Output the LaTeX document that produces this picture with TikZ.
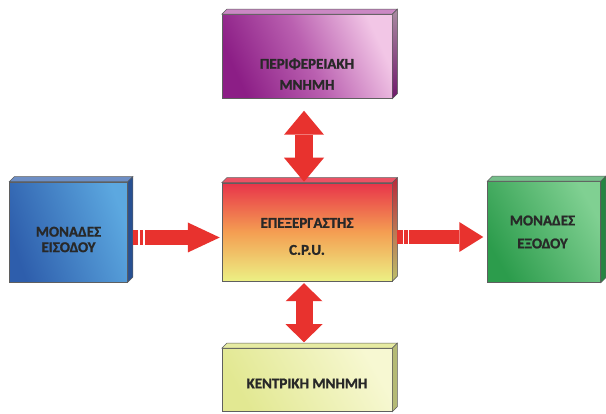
\documentclass[tikz,border=0pt]{standalone}
\usepackage{fontspec}
\setmainfont{Carlito}[BoldFeatures={FakeBold=1.2}]
\usepackage{tikz}
\usetikzlibrary{arrows.meta,positioning}
\definecolor{boxline}{RGB}{95,95,95}
\definecolor{txtgray}{RGB}{40,40,40}
\definecolor{arrred}{RGB}{232,50,46}
\definecolor{purpdark}{RGB}{140,30,134}
\definecolor{purpmid}{RGB}{186,96,176}
\definecolor{purplight}{RGB}{242,198,230}
\definecolor{bluedark}{RGB}{46,94,172}
\definecolor{bluelight}{RGB}{92,168,224}
\definecolor{cpured}{RGB}{232,52,74}
\definecolor{cpuorange}{RGB}{244,158,82}
\definecolor{cpuyellow}{RGB}{236,240,132}
\definecolor{greendark}{RGB}{44,156,76}
\definecolor{greenlight}{RGB}{128,208,146}
\definecolor{memdark}{RGB}{226,232,146}
\definecolor{memlight}{RGB}{247,248,210}

\newcommand\slab[3]{%
  \filldraw[draw=boxline, line width=0.5pt, #2] (#1.north west) -- ++(5,5)
    -- ([shift={(5,5)}]#1.north east) -- (#1.north east) -- cycle;
  \filldraw[draw=boxline, line width=0.5pt, #3] (#1.north east) -- ([shift={(5,5)}]#1.north east)
    -- ([shift={(5,5)}]#1.south east) -- (#1.south east) -- cycle;}

\begin{document}
\begin{tikzpicture}[
    x=1pt, y=1pt,
    box/.style={rectangle, draw=boxline, line width=0.5pt, inner sep=0pt},
    txt/.style={text=txtgray, font=\bfseries\fontsize{15}{17}\selectfont, align=center},
    harrow/.style n args={3}{draw=arrred, line width=#1,
                -{Triangle[width=#2, length=#3, line width=0pt]}},
    varrow/.style n args={3}{draw=arrred, line width=#1,
                {Triangle[width=#2, length=#3, line width=0pt]}-{Triangle[width=#2, length=#3, line width=0pt]}},
    stripe/.style={draw=white, line width=1.5pt}
  ]
    \fill[white] (0,0) rectangle (606,413);
    \useasboundingbox (0,0) rectangle (606,413);

    \node[box, minimum width=170pt, minimum height=98pt,
          top color=cpured, bottom color=cpuyellow, middle color=cpuorange,
          label={[txt, yshift=-4.5pt]center:{ΕΠΕΞΕΡΓΑΣΤΗΣ\\[10pt]C.P.U.}}] (cpu) at (307,181) {};

    \node[box, minimum width=170pt, minimum height=84pt, above=84pt of cpu,
          top color=purplight, bottom color=purpdark, middle color=purpmid, shading angle=-65,
          label={[txt, yshift=-17.5pt]center:{ΠΕΡΙΦΕΡΕΙΑΚΗ\\[4pt]ΜΝΗΜΗ}}] (per) {};

    \node[box, minimum width=118pt, minimum height=100pt, left=94pt of cpu,
          top color=bluelight, bottom color=bluedark, shading angle=-70,
          label={[txt, yshift=-7.5pt]center:{ΜΟΝΑΔΕΣ\\[-1.5pt]ΕΙΣΟΔΟΥ}}] (inp) {};

    \node[box, minimum width=113pt, minimum height=101pt, right=95pt of cpu,
          top color=greenlight, bottom color=greendark, shading angle=-60,
          label={[txt, xshift=-1.5pt]center:{ΜΟΝΑΔΕΣ\\[6pt]ΕΞΟΔΟΥ}}] (outp) {};

    \node[box, minimum width=170pt, minimum height=63pt, below=67pt of cpu,
          top color=memlight, bottom color=memdark, shading angle=-60,
          label={[txt, yshift=-3.5pt]center:{ΚΕΝΤΡΙΚΗ ΜΝΗΜΗ}}] (mem) {};

    \slab{cpu}{fill=cpured!85!white}{top color=cpured!80!black, bottom color=cpuyellow!80!black}
    \slab{per}{fill=purpmid!75!white}{top color=purplight!70!black, bottom color=purpdark!80!black}
    \slab{inp}{fill=bluedark!70!white}{fill=bluedark!85!black}
    \slab{outp}{fill=greendark!65!white}{fill=greendark!85!black}
    \slab{mem}{fill=memdark!85!white}{fill=memdark!80!black}

    \coordinate (inA) at ([shift={(5,-5.5)}]inp.east);
    \coordinate (outA) at ([shift={(5,-5)}]cpu.east);

    \draw[harrow={15pt}{30pt}{32pt}] (inA) -- ([shift={(-2,-5.5)}]cpu.west);
    \draw[harrow={13.5pt}{30pt}{24pt}] (outA) -- ([shift={(-4,-5)}]outp.west);
    \foreach \d in {6,11} {
      \draw[stripe] ([xshift=\d pt, yshift=-7.5pt]inA) -- ++(0,15);
      \draw[stripe] ([xshift=\d pt, yshift=-6.75pt]outA) -- ++(0,13.5);
    }

    \draw[varrow={18pt}{40pt}{24pt}] ([shift={(-3,-12)}]per.south) -- ([shift={(-3,1)}]cpu.north);
    \draw[varrow={17pt}{37pt}{18pt}] ([shift={(-3,-2)}]cpu.south) -- ([shift={(-3,6)}]mem.north);
  \end{tikzpicture}
\end{document}
